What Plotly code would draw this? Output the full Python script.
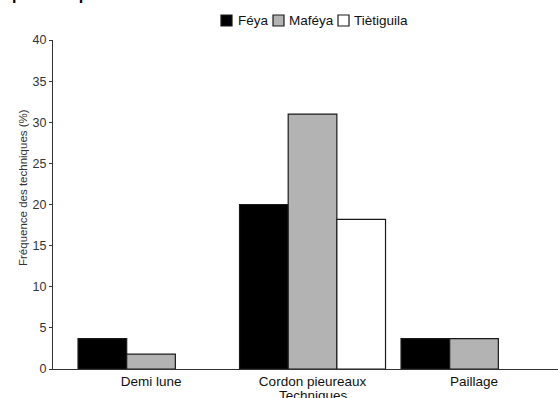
import plotly.graph_objects as go

# Techniques de conservation des sols par village
techniques = ["Demi lune", "Cordon pieureaux", "Paillage"]
villages = ["Féya", "Maféya", "Tiètiguila"]
feya = [3.7, 20.0, 3.7]
mafeya = [1.8, 31.0, 3.7]
tietiguila = [None, 18.2, None]
colors = ["#000000", "#b3b3b3", "#ffffff"]

W, H = 558, 398
L, R, T, B = 53, 0, 40, 29
FONT = "Liberation Sans, Arial, sans-serif"


def px(x):
    return (x - L) / (W - L - R)


def py(y):
    return (H - B - y) / (H - T - B)


fig = go.Figure()
for name, vals, col in zip(villages, [feya, mafeya, tietiguila], colors):
    fig.add_trace(go.Bar(
        x=techniques, y=vals, name=name,
        marker=dict(color=col, line=dict(color="#1a1a1a", width=1.2)),
        showlegend=False,
    ))

fig.update_layout(
    width=W, height=H,
    margin=dict(l=L, r=R, t=T, b=B),
    paper_bgcolor="white", plot_bgcolor="white",
    barmode="group", bargap=0.096, bargroupgap=0,
    font=dict(family=FONT, size=13, color="#000000"),
    xaxis=dict(
        range=[-0.607, 2.52], showgrid=False, zeroline=False,
        showline=True, linecolor="#333333", linewidth=1.2,
        ticks="", tickfont=dict(size=13.5, color="#111111"),
    ),
    yaxis=dict(
        range=[0, 40], tickvals=[0, 5, 10, 15, 20, 25, 30, 35, 40],
        showgrid=False, zeroline=False,
        showline=True, linecolor="#333333", linewidth=1.2,
        ticks="outside", ticklen=3, tickcolor="#333333", tickwidth=1,
        tickfont=dict(size=12.5, color="#333333"),
    ),
)

# Axis titles
fig.add_annotation(
    text="Fréquence des techniques (%)", textangle=-90,
    xref="paper", yref="paper", x=px(23), y=py(188),
    xanchor="center", yanchor="middle",
    showarrow=False, font=dict(size=11.5, color="#333333"),
)
fig.add_annotation(
    text="Techniques", xref="paper", yref="paper",
    x=px(313), y=py(395), xanchor="center", yanchor="middle",
    showarrow=False, font=dict(size=13.5, color="#111111"),
)

# Caption line above the chart
fig.add_annotation(
    text="<b>pour les producteurs.</b>", xref="paper", yref="paper",
    x=px(10), y=py(5), xanchor="left", yanchor="bottom",
    showarrow=False, font=dict(size=16, color="#000000"),
)

# Legend
leg_sq = [221, 273, 338]
leg_tx = [236, 287, 352]
for name, col, sx, tx in zip(villages, colors, leg_sq, leg_tx):
    fig.add_shape(
        type="rect", xref="paper", yref="paper",
        x0=px(sx), x1=px(sx + 11), y0=py(26), y1=py(15),
        fillcolor=col, line=dict(color="#1a1a1a", width=1.2),
    )
    fig.add_annotation(
        text=name, xref="paper", yref="paper", x=px(tx), y=py(20.5),
        xanchor="left", yanchor="middle", showarrow=False,
        font=dict(size=13.5, color="#111111"),
    )

fig.write_html("out.html")
